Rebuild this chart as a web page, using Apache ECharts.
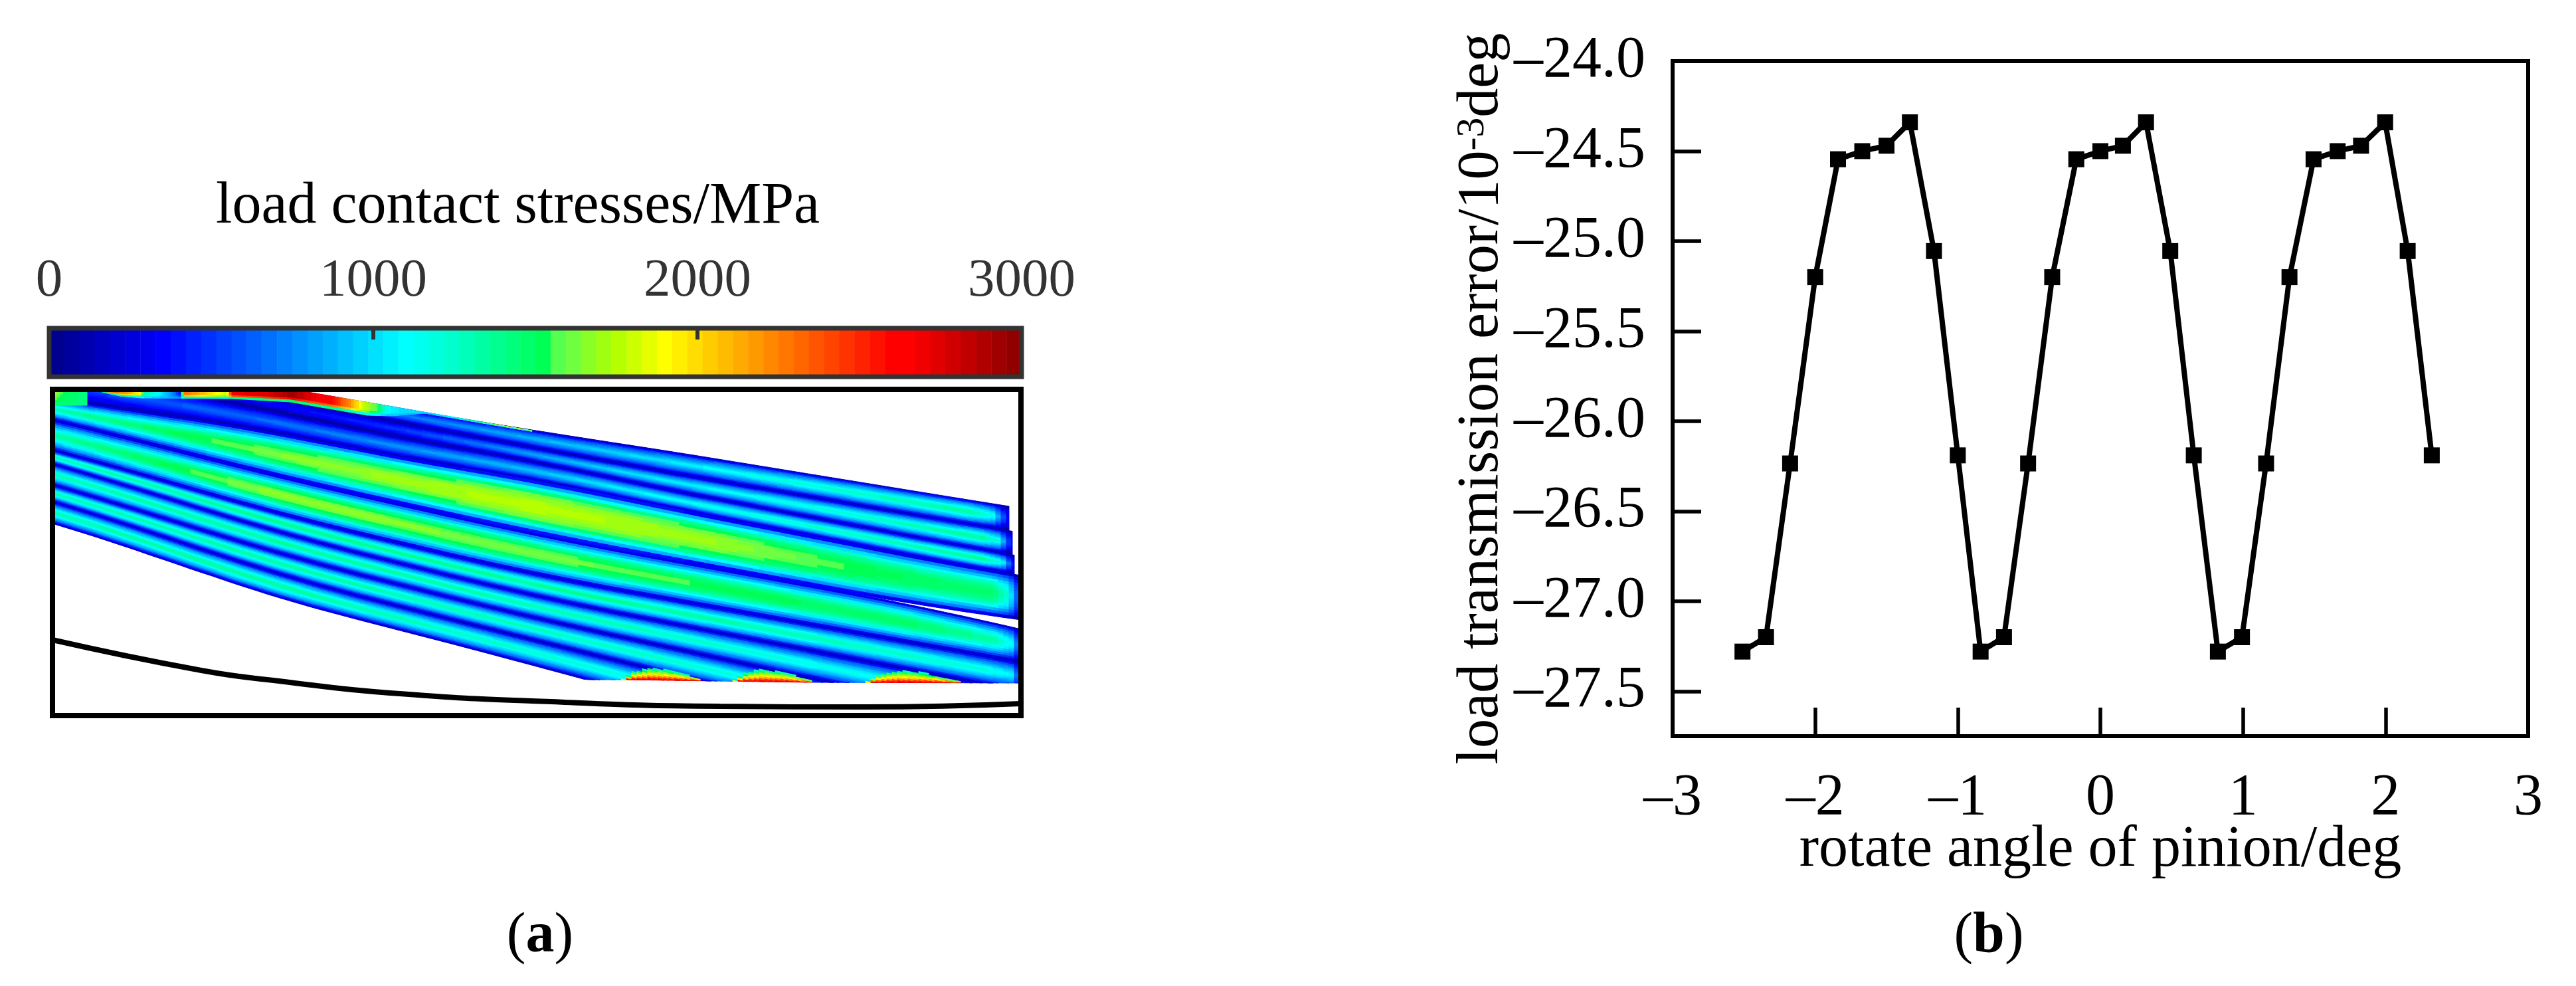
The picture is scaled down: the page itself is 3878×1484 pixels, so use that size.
<!DOCTYPE html>
<html>
<head>
<meta charset="utf-8">
<style>html,body{margin:0;padding:0;background:#fff}#c{width:3878px;height:1484px}</style>
<script src="https://cdn.jsdelivr.net/npm/echarts@6/dist/echarts.min.js"></script>
</head>
<body>
<div id="c"></div>
<script>
// ---------- panel (b): transmission error curve ----------
const rotateAngle = [-2.51,-2.345,-2.176,-2.0,-1.84,-1.67,-1.5,-1.336,-1.167,-1.0,-0.84,-0.676,-0.507,-0.338,-0.169,0,0.158,0.32,0.49,0.655,0.824,0.993,1.162,1.326,1.495,1.664,1.828,1.997,2.155,2.324];
const transmissionError = [-27.28,-27.2,-26.235,-25.2,-24.545,-24.5,-24.47,-24.34,-25.055,-26.19,-27.28,-27.2,-26.235,-25.2,-24.545,-24.5,-24.47,-24.34,-25.055,-26.19,-27.28,-27.2,-26.235,-25.2,-24.545,-24.5,-24.47,-24.34,-25.055,-26.19];
const errorTicks = [-27.5,-27,-26.5,-26,-25.5,-25,-24.5,-24];

// ---------- panel (a): colour scale ----------
const stressTicks = [0,1000,2000,3000];
const colorScale = ['#00008f','#00009f','#0000af','#0000bf','#0000cf','#0000df','#0000ef','#0000ff',
 '#0010ff','#0020ff','#0030ff','#0040ff','#0050ff','#0060ff','#0070ff','#0080ff',
 '#0090ff','#00a0ff','#00b0ff','#00c0ff','#00d0ff','#00e0ff','#00f0ff','#00ffff',
 '#00ffee','#00ffdd','#00ffcc','#00ffb8','#00ffa5','#00ff90','#00ff7c','#00ff68',
 '#00ff55','#55ff50','#6fff40','#8aff25','#a0ff10','#b5ff00','#ccff00','#e5ff00',
 '#ffff00','#ffee00','#ffdd00','#ffcc00','#ffbb00','#ffaa00','#ff9900','#ff8800',
 '#ff7700','#ff6600','#ff5500','#ff4400','#ff3300','#ff2200','#ff1100','#ff0000',
 '#ff0000','#f00000','#e00000','#d00000','#c00000','#b00000','#a00000','#900000'];

// ---------- panel (a): contact-pattern edges, read as [length, height] ----------
const edgeT  = [[52,-51],[361,0],[511,26],[721,62],[861,82],[1426,174],[1458,179]];
const edgeL1 = [[0,-51],[341,14],[511,48],[721,87],[861,114],[1426,211],[1458,216]];
const edgeL2 = [[0,-31],[341,34],[511,72],[721,106],[861,139],[1426,247],[1458,252]];
const edgeL3 = [[0,14],[52,22],[341,64],[511,102],[721,134],[861,165],[1426,276],[1458,281]];
const edgeA1 = [[0,46],[121,75],[341,132],[721,217],[861,244],[1313,327],[1458,347]];
const edgeA2 = [[0,46],[121,75],[341,132],[721,217],[861,244],[1313,327],[1458,361]];
const edgeB  = [[0,92],[121,124],[341,189],[721,279],[861,304],[1458,411]];
const edgeC  = [[0,112],[121,147],[341,217],[721,311],[861,339],[1394,442],[1458,454]];
const edgeD  = [[0,144],[121,179],[341,249],[721,344],[861,374],[1160,439],[1458,504]];
const edgeE  = [[0,169],[121,205],[341,281],[721,377],[861,411],[966,437],[1221,499]];
const edgeF  = [[0,202],[121,237],[268,294],[341,316],[721,414],[797,436],[921,469]];
const edgeCut = [[0,437],[860,437],[1140,441],[1458,442]];

// peak stress along each contact line, read as [length, MPa]
const peak0 = [[52,300],[361,350],[511,700],[721,900],[861,1020],[1150,1250],[1380,1380],[1415,1200],[1440,300]];
const peak1 = [[52,300],[341,350],[511,500],[721,850],[861,1040],[1150,1230],[1400,1400],[1425,1200],[1445,300]];
const peak2 = [[52,550],[341,700],[511,800],[721,950],[861,1100],[1150,1280],[1400,1420],[1430,1200],[1448,300]];
const peak3 = [[0,1350],[121,1480],[341,1650],[721,1780],[1000,1700],[1150,1580],[1300,1500],[1415,1480],[1440,1200],[1454,500]];
const peak4 = [[0,1350],[121,1480],[341,1700],[721,1650],[1000,1560],[1300,1480],[1420,1340],[1445,1100],[1456,500]];
const peak5 = [[0,1350],[341,1450],[861,1400],[1200,1300],[1400,1220],[1445,1100],[1456,500]];
const peak6 = [[0,1350],[341,1420],[861,1320],[1160,1180],[1300,1130],[1394,1100]];
const peak7 = [[0,1350],[341,1400],[861,1280],[1160,1150]];
const peak8 = [[0,1350],[341,1380],[797,1220],[921,1180]];

// stress share by distance from a contact line's edge
const edgeShare = [[0,.08],[3,.25],[6,.45],[11,.62],[16,.78],[22,.9],[30,.97],[40,1]];

// hot edge along the tooth top, [length, MPa] and its lower limit
const topEdgeStress = [[74,2450],[111,2200],[133,1880],[138,1350],[161,1080],[179,800],[193,420],[198,2300],[231,2050],[263,1800],[271,2700],[321,2750],[353,2900],[361,2950],[391,2700],[421,2600],[446,2250],[466,1850],[489,1550],[501,1200],[511,1050],[541,1000],[571,1020],[601,1100],[641,1500],[681,1800],[720,1800]];
const topEdgeLimit = [[74,4],[100,10],[134,13],[271,14],[358,19],[474,39],[511,40],[560,36],[601,43],[701,60],[720,63]];
// top-left corner of the tooth, [length, MPa]
const cornerStress = [[0,2000],[8,1700],[18,1550],[26,1500],[40,1450],[52,1400]];
// hot spots at the tooth bottom: start and end length, arc height, stress by depth share
const bottomSpots = [[859,976],[1027,1144],[1226,1364]];
const spotArc = [[0,0],[.15,12],[.35,18],[.6,15],[.8,9],[1,2]];
const spotStress = [[0,2750],[.12,2500],[.3,2100],[.5,1850],[.7,1600],[1,1250]];
// fillet curve under the tooth
const filletCurve = [[0,377],[224,423],[341,439],[508,457],[771,471],[1005,477],[1222,478],[1458,473]];

// ---------- build the stress field cells from the readings ----------
function at(pts, x) {
  let i = 0;
  while (i < pts.length - 2 && x > pts[i + 1][0]) i++;
  const a = pts[i], b = pts[i + 1];
  return a[1] + (b[1] - a[1]) * (x - a[0]) / (b[0] - a[0]);
}
function atHeld(pts, x) {
  if (x <= pts[0][0]) return pts[0][1];
  if (x >= pts[pts.length - 1][0]) return pts[pts.length - 1][1];
  return at(pts, x);
}
// edges are drawn as smooth curves through their read points
function edgeAt(pts, x) {
  let s = 0;
  for (let k = -2; k <= 2; k++) s += at(pts, x + k * 60);
  return s / 5;
}
function level(v) {
  const k = Math.max(0, Math.min(63, Math.floor(v / 3000 * 64)));
  return k * 3000 / 63;
}
function spotValue(x, depth) {
  for (const s of bottomSpots) {
    if (x >= s[0] && x <= s[1]) {
      const h = at(spotArc, (x - s[0]) / (s[1] - s[0]));
      if (h > 0 && depth < h) return at(spotStress, depth / h);
    }
  }
  return 0;
}
const bands = [
  [edgeT, edgeL1, peak0, 52, 1440],
  [edgeL1, edgeL2, peak1, 52, 1445],
  [edgeL2, edgeL3, peak2, 52, 1448],
  [edgeL3, edgeA1, peak3, 0, 1454],
  [edgeA2, edgeB, peak4, 0, 1456],
  [edgeB, edgeC, peak5, 0, 1456],
  [edgeC, edgeD, peak6, 0, 1458],
  [edgeD, edgeE, peak7, 0, 1458],
  [edgeE, edgeF, peak8, 0, 1458]
];
const fieldCells = [];
const ROWS = 16, STEP = 8;
for (const [top, bot, peak, x0, x1] of bands) {
  for (let x = x0; x < x1; x += STEP) {
    const xb = Math.min(x + STEP, x1), xm = (x + xb) / 2;
    const cutA = at(edgeCut, x), cutB = at(edgeCut, xb), cutM = at(edgeCut, xm);
    const ta = edgeAt(top, x), tb = edgeAt(top, xb), ba = edgeAt(bot, x), bb = edgeAt(bot, xb);
    const half = Math.max(1, ((ba + bb) - (ta + tb)) / 4);
    const norm = atHeld(edgeShare, half);
    for (let r = 0; r < ROWS; r++) {
      const t0 = r / ROWS, t1 = (r + 1) / ROWS, tm = (t0 + t1) / 2;
      const y00 = Math.min(ta + (ba - ta) * t0, cutA), y01 = Math.min(ta + (ba - ta) * t1, cutA);
      const y10 = Math.min(tb + (bb - tb) * t0, cutB), y11 = Math.min(tb + (bb - tb) * t1, cutB);
      if (y00 === y01 && y10 === y11) continue;
      if (Math.max(y01, y11) < 0) continue;
      const dist = Math.min(tm, 1 - tm) * half * 2;
      let v = atHeld(peak, xm) * atHeld(edgeShare, dist) / norm;
      const ym = (y00 + y01 + y10 + y11) / 4;
      v = Math.max(v, spotValue(xm, cutM - ym));
      fieldCells.push([x, y00, xb, y10, xb, y11, x, y01, level(v)]);
    }
  }
}
// hot top edge
for (let x = 74; x < 720; x += 4) {
  const xb = x + 4, xm = x + 2, v0 = atHeld(topEdgeStress, xm);
  const ya = Math.max(0, at(edgeT, x)), yb = Math.max(0, at(edgeT, xb));
  const la = Math.max(ya, at(topEdgeLimit, x)), lb = Math.max(yb, at(topEdgeLimit, xb));
  for (let r = 0; r < 6; r++) {
    const t0 = r / 6, t1 = (r + 1) / 6, tm = (t0 + t1) / 2;
    const v = tm < .7 ? v0 : v0 + (900 - v0) * (tm - .7) / .3;
    fieldCells.push([x, ya + (la - ya) * t0, xb, yb + (lb - yb) * t0, xb, yb + (lb - yb) * t1, x, ya + (la - ya) * t1, level(v)]);
  }
}
// top-left corner
for (let x = 0; x < 52; x += 4) {
  const v0 = at(cornerStress, x + 2);
  for (let r = 0; r < 6; r++) {
    const y0 = r * 4, y1 = y0 + 4, share = (r + .5) / 6;
    const v = v0 + (1450 - v0) * share;
    fieldCells.push([x, y0, x + 4, y0, x + 4, y1, x, y1, level(v)]);
  }
}
const scaleCells = colorScale.map((c, i) => [i * 3000 / 64, (i + 1) * 3000 / 64, i * 3000 / 63]);

const serif = 'Liberation Serif';
const dash = v => String(v).replace('-', '\u2013');
const capRich = {p: {fontFamily: serif, fontSize: 86, fontWeight: 'normal', color: '#000'}, b: {fontFamily: serif, fontSize: 86, fontWeight: 'bold', color: '#000'}};
const chart = echarts.init(document.getElementById('c'), null, {renderer: 'canvas', width: 3878, height: 1484, devicePixelRatio: 1});
chart.setOption({
  animation: false,
  backgroundColor: '#fff',
  title: [
    {text: 'load contact stresses/MPa', left: 325, top: 268, padding: 0, textStyle: {fontFamily: serif, fontSize: 88, fontWeight: 'normal', color: '#000'}},
    {text: '{p|(}{b|a}{p|)}', left: 813, top: 1367, padding: 0, textAlign: 'center', textStyle: {rich: capRich}},
    {text: '{p|(}{b|b}{p|)}', left: 2994, top: 1367, padding: 0, textAlign: 'center', textStyle: {rich: capRich}}
  ],
  grid: [
    {left: 74, top: 494, width: 1464, height: 73, show: true, z: 10, borderColor: '#333', borderWidth: 7, backgroundColor: 'transparent'},
    {left: 79, top: 586, width: 1458, height: 491, show: true, z: 10, borderColor: '#000', borderWidth: 8, backgroundColor: 'transparent'},
    {left: 2518, top: 92, width: 1288, height: 1016, show: true, z: 10, borderColor: '#000', borderWidth: 6, backgroundColor: 'transparent'}
  ],
  xAxis: [
    {gridIndex: 0, type: 'value', position: 'top', min: 0, max: 3000, interval: 1000, z: 11,
      axisLine: {show: false, onZero: false}, splitLine: {show: false},
      axisTick: {inside: true, length: 17, lineStyle: {width: 6, color: '#333'}},
      axisLabel: {color: '#333', fontFamily: serif, fontSize: 81, margin: 30, hideOverlap: false, showMinLabel: true, showMaxLabel: true, customValues: stressTicks, formatter: v => String(v)}},
    {gridIndex: 1, type: 'value', min: 0, max: 1458, show: false},
    {gridIndex: 2, type: 'value', min: -3, max: 3, interval: 1, z: 11,
      axisLine: {show: false, onZero: false}, splitLine: {show: false},
      axisTick: {inside: true, length: 43, lineStyle: {width: 5.5, color: '#000'}},
      axisLabel: {color: '#000', fontFamily: serif, fontSize: 88, margin: 50, showMinLabel: true, showMaxLabel: true, formatter: dash},
      name: 'rotate angle of pinion/deg', nameLocation: 'middle', nameGap: 128, nameMoveOverlap: false,
      nameTextStyle: {color: '#000', fontFamily: serif, fontSize: 88}}
  ],
  yAxis: [
    {gridIndex: 0, type: 'value', min: 0, max: 1, show: false},
    {gridIndex: 1, type: 'value', min: 0, max: 491, inverse: true, show: false},
    {gridIndex: 2, type: 'value', min: -27.75, max: -24, z: 11,
      axisLine: {show: false, onZero: false}, splitLine: {show: false},
      axisTick: {inside: true, length: 43, lineStyle: {width: 5.5, color: '#000'}, customValues: errorTicks},
      axisLabel: {color: '#000', fontFamily: serif, fontSize: 88, margin: 41, padding: [0, 0, 12, 0], customValues: errorTicks, formatter: v => dash(v.toFixed(1))},
      name: '{t|load transmission error/10}{s|-3}{t|deg}', nameLocation: 'middle', nameRotate: 90, nameGap: 243, nameMoveOverlap: false,
      nameTextStyle: {rich: {t: {color: '#000', fontFamily: serif, fontSize: 88}, s: {color: '#000', fontFamily: serif, fontSize: 60, verticalAlign: 'top'}}}}
  ],
  visualMap: [{type: 'continuous', show: false, min: 0, max: 3000, seriesIndex: [0, 1], dimension: 2, inRange: {color: colorScale}}],
  series: [
    {type: 'custom', name: 'colour scale', xAxisIndex: 0, yAxisIndex: 0, clip: true, silent: true, progressive: 0,
      encode: {x: [0, 1]}, data: scaleCells,
      renderItem: (params, api) => {
        const a = api.coord([api.value(0), 0]), b = api.coord([api.value(1), 1]);
        const c = api.visual('color');
        return {type: 'rect', shape: {x: a[0], y: b[1], width: b[0] - a[0] + .5, height: a[1] - b[1]}, style: {fill: c}};
      }},
    {type: 'custom', name: 'load contact stresses', xAxisIndex: 1, yAxisIndex: 1, clip: true, silent: true, progressive: 0,
      dimensions: ['x1', 'y1', 'stress', 'x2', 'y2', 'x3', 'y3', 'x4', 'y4'],
      encode: {x: 0, y: 1},
      data: fieldCells.map(d => [d[0], d[1], d[8], d[2], d[3], d[4], d[5], d[6], d[7]]),
      renderItem: (params, api) => {
        const c = api.visual('color');
        const pts = [[0, 1], [3, 4], [5, 6], [7, 8]].map(p => api.coord([api.value(p[0]), api.value(p[1])]));
        return {type: 'polygon', shape: {points: pts}, style: {fill: c, stroke: c, lineWidth: 1}};
      }},
    {type: 'line', name: 'fillet', xAxisIndex: 1, yAxisIndex: 1, data: filletCurve, smooth: true, symbol: 'none', silent: true,
      lineStyle: {color: '#000', width: 8}},
    {type: 'line', name: 'load transmission error', xAxisIndex: 2, yAxisIndex: 2,
      data: rotateAngle.map((x, i) => [x, transmissionError[i]]),
      symbol: 'rect', symbolSize: 24, silent: true,
      lineStyle: {color: '#000', width: 8}, itemStyle: {color: '#000'}}
  ]
});
</script>
</body>
</html>
